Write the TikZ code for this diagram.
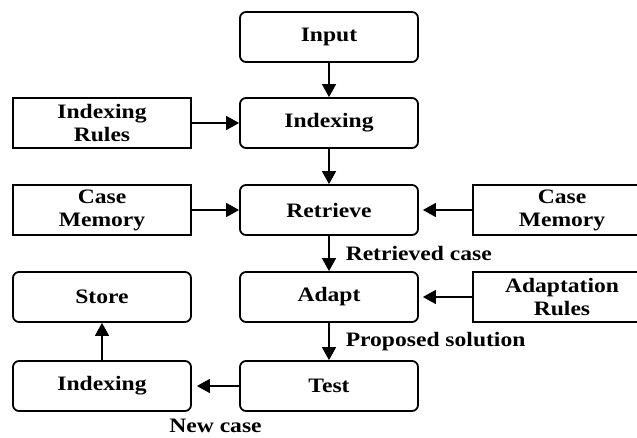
\documentclass[tikz,border=0pt]{standalone}
\usepackage{fontspec}
\setmainfont{Liberation Serif}[FakeStretch=1.15]
\usetikzlibrary{arrows.meta}
\begin{document}
\begin{tikzpicture}[x=1pt,y=-1pt,
  box/.style={draw, line width=1.8pt, minimum width=178pt, minimum height=50pt,
    align=center, inner sep=0pt, font=\bfseries\fontsize{20.5}{23}\selectfont},
  rbox/.style={box, rounded corners=6pt},
  lbl/.style={font=\bfseries\fontsize{20.5}{23}\selectfont, inner sep=0pt},
  arr/.style={-{Triangle[length=13pt,width=14pt]}, line width=1.5pt}]
\useasboundingbox (0,0) rectangle (637,438);
\fill[white] (0,0) rectangle (637,438);
\clip (0,0) rectangle (637,438);
% main column
\node[rbox] (input) at (329,37) {Input};
\node[rbox] (idx) at (329,123) {Indexing};
\node[rbox] (ret) at (329,210) {Retrieve};
\node[rbox] (adapt) at (329,297) {Adapt};
\node[rbox] (test) at (329,386) {Test};
% left column
\node[box] (idxr) at (102,123) {Indexing\\Rules};
\node[box] (cml) at (102,210) {Case\\Memory};
\node[rbox] (store) at (102,297) {Store};
\node[rbox] (idx2) at (102,386) {Indexing};
% right column
\node[box] (cmr) at (562,210) {Case\\Memory};
\node[box] (adr) at (562,297) {Adaptation\\Rules};
% connectors
\draw[arr] (input) -- (idx);
\draw[arr] (idxr) -- (idx);
\draw[arr] (idx) -- (ret);
\draw[arr] (cml) -- (ret);
\draw[arr, shorten >=4pt] (cmr) -- (ret);
\draw[arr] (ret) -- node[lbl, right, xshift=16pt] {Retrieved case} (adapt);
\draw[arr, shorten >=4pt] (adr) -- (adapt);
\draw[arr] (adapt) -- node[lbl, right, xshift=16pt] {Proposed solution} (test);
\draw[arr, shorten >=5pt] (test) -- node[lbl, midway, yshift=-40pt] {New case} (idx2);
\draw[arr] (idx2) -- (store);
\end{tikzpicture}
\end{document}
